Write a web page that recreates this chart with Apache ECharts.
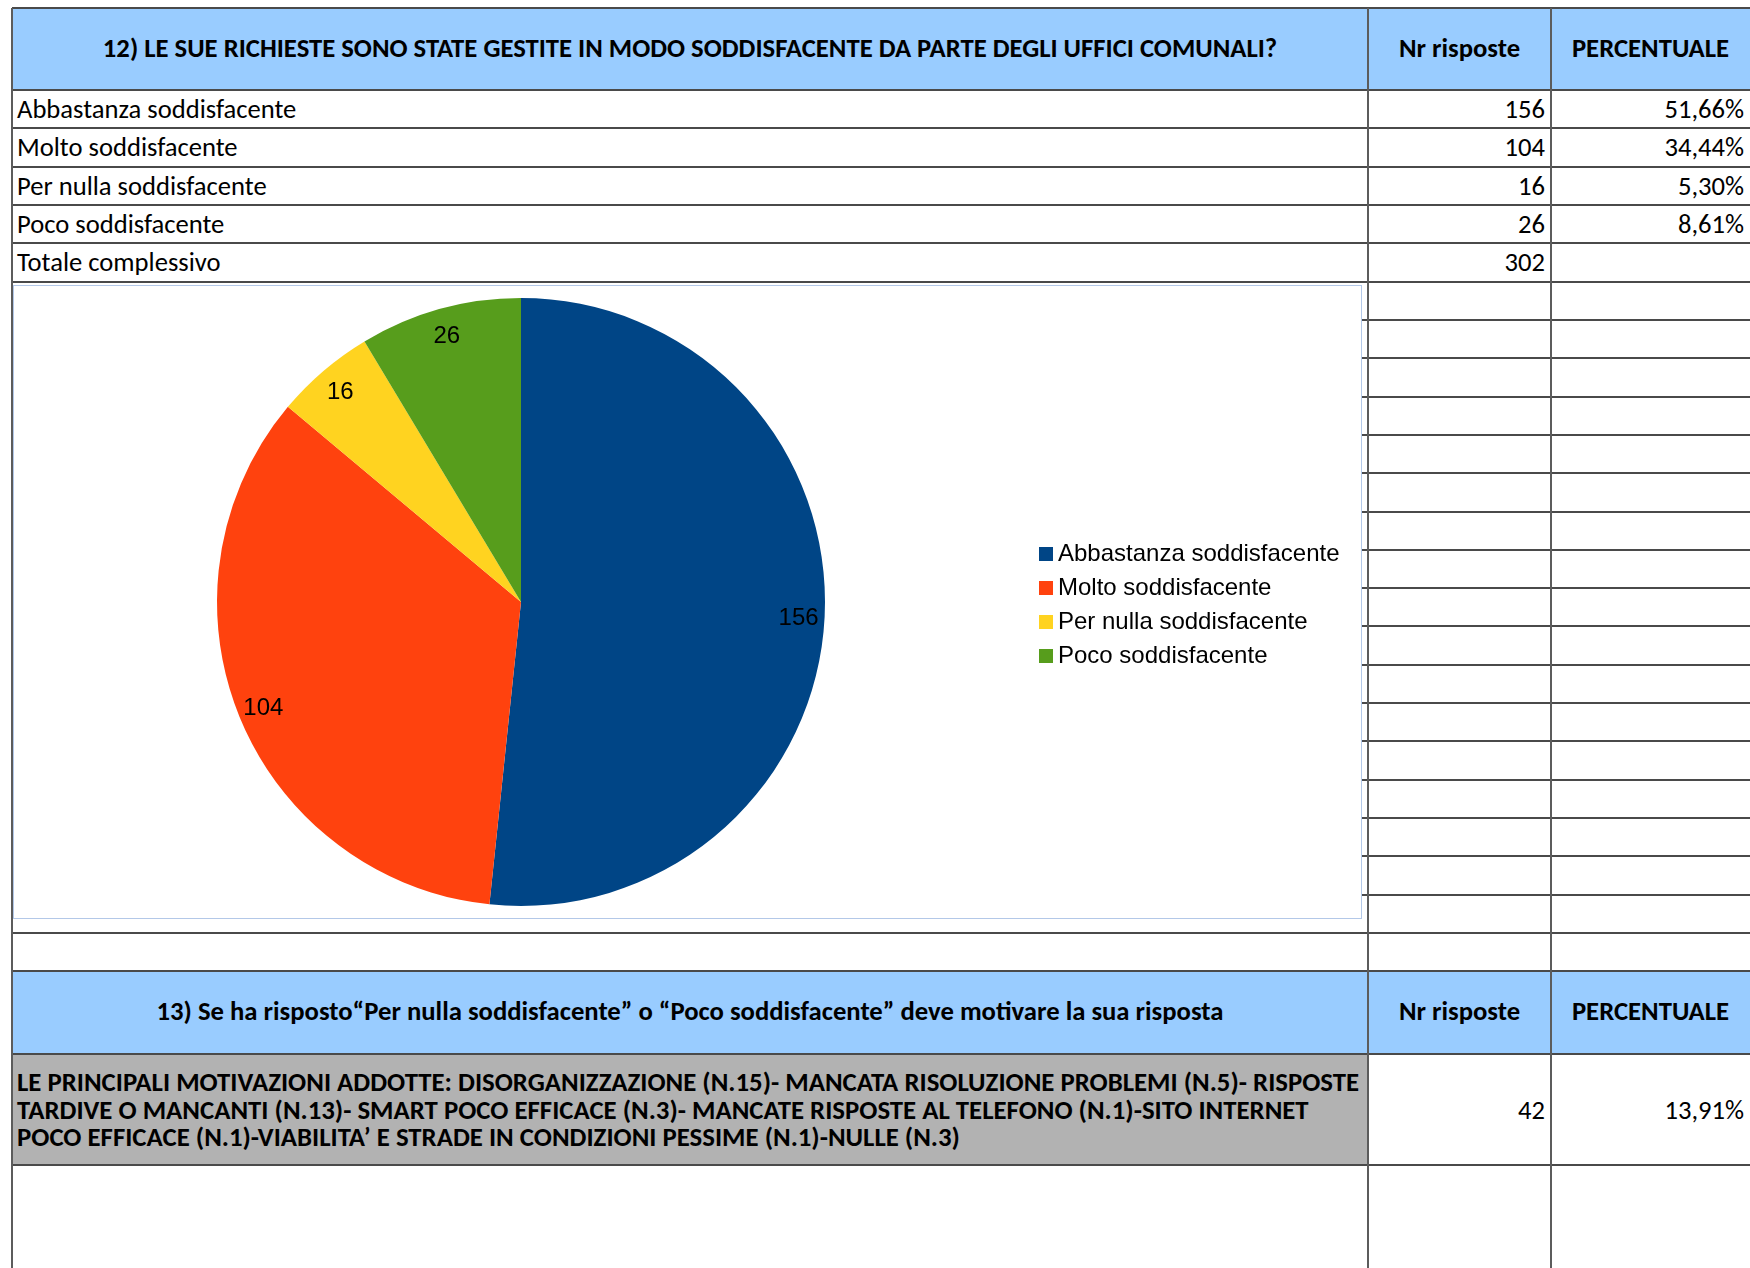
<!DOCTYPE html>
<html>
<head>
<meta charset="utf-8">
<title>Soddisfazione uffici comunali</title>
<script src="https://cdn.jsdelivr.net/npm/echarts@6/dist/echarts.min.js"></script>
<style>
  html, body { margin: 0; padding: 0; background: #fff; }
  #sheet { position: relative; width: 1750px; height: 1268px; overflow: hidden;
           font-family: Carlito, Calibri, Lato, "Open Sans", sans-serif; color: #000; }
  .hl { position: absolute; height: 2px; background: #4a4a4a; z-index: 1; }
  .vl { position: absolute; width: 2px; background: #5c5c5c; z-index: 1; }
  .cell { position: absolute; display: flex; align-items: center; box-sizing: border-box;
          white-space: nowrap; font-size: 26.6px; z-index: 2; }
  .fill { z-index: 0; }
  .head { font-weight: bold; justify-content: center; font-size: 26.7px; padding-bottom: 3px; }
  .left { justify-content: flex-start; padding-left: 5px; }
  .right { justify-content: flex-end; padding-right: 6px; }
  #chartBox { position: absolute; left: 13px; top: 285px; width: 1349px; height: 634px; z-index: 3;
              box-sizing: border-box; border: 1px solid #b3c8e8; background: #fff; }
  #chart { width: 1347px; height: 632px; }
</style>
</head>
<body>
<div id="sheet">
  <div id="chartBox"><div id="chart"></div></div>
</div>
<script>
// Question 12: answers and counts
const categories = ['Abbastanza soddisfacente', 'Molto soddisfacente', 'Per nulla soddisfacente', 'Poco soddisfacente'];
const counts = [156, 104, 16, 26];
const percentLabels = ['51,66%', '34,44%', '5,30%', '8,61%'];
const totalLabel = 'Totale complessivo';
const colors = ['#004586', '#ff420e', '#ffd320', '#579d1c'];

const q12Title = '12) LE SUE RICHIESTE SONO STATE GESTITE IN MODO SODDISFACENTE DA PARTE DEGLI UFFICI COMUNALI?';
const columnHeaders = ['Nr risposte', 'PERCENTUALE'];

// Question 13: free-text reasons
const q13Title = '13) Se ha risposto“Per nulla soddisfacente” o “Poco soddisfacente” deve motivare la sua risposta';
const q13Lines = [
  'LE PRINCIPALI MOTIVAZIONI ADDOTTE: DISORGANIZZAZIONE (N.15)- MANCATA RISOLUZIONE PROBLEMI (N.5)- RISPOSTE',
  'TARDIVE O MANCANTI (N.13)- SMART POCO EFFICACE (N.3)- MANCATE RISPOSTE AL TELEFONO (N.1)-SITO INTERNET',
  'POCO EFFICACE (N.1)-VIABILITA’ E STRADE IN CONDIZIONI PESSIME (N.1)-NULLE (N.3)'
];
const q13Count = 42;
const q13Percent = '13,91%';

// ---- spreadsheet grid ----
const sheet = document.getElementById('sheet');
const colX = [12, 1368, 1551, 1750];
const rowH = 38.32;
const head1 = [8, 90];
const bodyRows = 22;                       // 5 filled rows + 17 rows under the chart
const blankTop = head1[1] + bodyRows * rowH;
const head2 = [blankTop + rowH, 1054];
const reasonRow = [1054, 1165];

function hLine(y) {
  const d = document.createElement('div');
  d.className = 'hl';
  d.style.left = colX[0] + 'px';
  d.style.width = (colX[3] - colX[0]) + 'px';
  d.style.top = (y - 1) + 'px';
  sheet.appendChild(d);
}
function vLine(x) {
  const d = document.createElement('div');
  d.className = 'vl';
  d.style.left = (x - 1) + 'px';
  d.style.top = head1[0] + 'px';
  d.style.height = (1268 - head1[0]) + 'px';
  sheet.appendChild(d);
}
function fill(x0, x1, y0, y1, color) {
  const d = document.createElement('div');
  d.className = 'cell fill';
  Object.assign(d.style, { left: x0 + 'px', top: y0 + 'px', width: (x1 - x0) + 'px',
                           height: (y1 - y0) + 'px', background: color });
  sheet.appendChild(d);
}
function cell(x0, x1, y0, y1, cls, html, extra) {
  const d = document.createElement('div');
  d.className = 'cell ' + cls;
  Object.assign(d.style, { left: x0 + 'px', top: y0 + 'px', width: (x1 - x0) + 'px',
                           height: (y1 - y0) + 'px' });
  d.innerHTML = html;
  if (extra) Object.assign(d.style, extra);
  sheet.appendChild(d);
  return d;
}

// header fills
fill(colX[0], colX[3], head1[0], head1[1], '#99ccff');
fill(colX[0], colX[3], head2[0], head2[1], '#99ccff');
fill(colX[0], colX[1], reasonRow[0], reasonRow[1], '#b2b2b2');

// header texts
cell(colX[0], colX[1], head1[0], head1[1], 'head', q12Title);
cell(colX[1], colX[2], head1[0], head1[1], 'head', columnHeaders[0]);
cell(colX[2], colX[3], head1[0], head1[1], 'head', columnHeaders[1]);

// answer rows with totals
const total = counts.reduce((a, b) => a + b, 0);
const tableRows = categories.map((c, i) => [c, String(counts[i]), percentLabels[i]]);
tableRows.push([totalLabel, String(total), '']);
tableRows.forEach((r, i) => {
  const y0 = head1[1] + i * rowH, y1 = y0 + rowH;
  const pad = { paddingTop: '0px' };
  cell(colX[0], colX[1], y0, y1, 'left', r[0], pad);
  cell(colX[1], colX[2], y0, y1, 'right', r[1], pad);
  cell(colX[2], colX[3], y0, y1, 'right', r[2], pad);
});

cell(colX[0], colX[1], head2[0], head2[1], 'head', q13Title);
cell(colX[1], colX[2], head2[0], head2[1], 'head', columnHeaders[0]);
cell(colX[2], colX[3], head2[0], head2[1], 'head', columnHeaders[1]);

cell(colX[0], colX[1], reasonRow[0], reasonRow[1], 'left', q13Lines.join('<br>'),
     { fontWeight: 'bold', fontSize: '26.8px', lineHeight: '27.4px' });
cell(colX[1], colX[2], reasonRow[0], reasonRow[1], 'right', String(q13Count));
cell(colX[2], colX[3], reasonRow[0], reasonRow[1], 'right', q13Percent);

// grid lines
const lineYs = [head1[0], head1[1]];
for (let k = 1; k <= bodyRows; k++) lineYs.push(head1[1] + k * rowH);
lineYs.push(head2[0], head2[1], reasonRow[1]);
lineYs.forEach(y => hLine(y));
colX.slice(0, 3).forEach(x => vLine(x));

// ---- pie chart ----
const chart = echarts.init(document.getElementById('chart'), null, { renderer: 'canvas' });
const pieData = categories.map((name, i) => ({ name, value: counts[i], itemStyle: { color: colors[i] } }));
const labelFont = { fontFamily: '"Liberation Sans", Arial, sans-serif', fontSize: 24, color: '#000' };
chart.setOption({
  animation: false,
  backgroundColor: '#fff',
  legend: {
    orient: 'vertical',
    left: 1025,
    top: 256,
    padding: 0,
    itemWidth: 14,
    itemHeight: 14,
    itemGap: 10,
    icon: 'rect',
    selectedMode: false,
    textStyle: Object.assign({ lineHeight: 24 }, labelFont),
    data: categories.map((name, i) => ({ name, itemStyle: { color: colors[i], borderWidth: 0 } }))
  },
  series: [
    {
      type: 'pie',
      center: [507, 316],
      radius: [0, 304],
      startAngle: 90,
      clockwise: true,
      silent: true,
      label: { show: false },
      labelLine: { show: false },
      itemStyle: { borderWidth: 0 },
      emphasis: { disabled: true },
      data: pieData
    },
    {
      // value labels placed near the outer rim of each slice
      type: 'pie',
      center: [507, 318],
      radius: [246, 304],
      startAngle: 90,
      clockwise: true,
      silent: true,
      itemStyle: { color: 'rgba(0,0,0,0)', borderWidth: 0 },
      label: Object.assign({ show: true, position: 'inside', formatter: '{c}' }, labelFont),
      labelLine: { show: false },
      emphasis: { disabled: true },
      data: categories.map((name, i) => ({ name, value: counts[i] }))
    }
  ]
});
</script>
</body>
</html>
